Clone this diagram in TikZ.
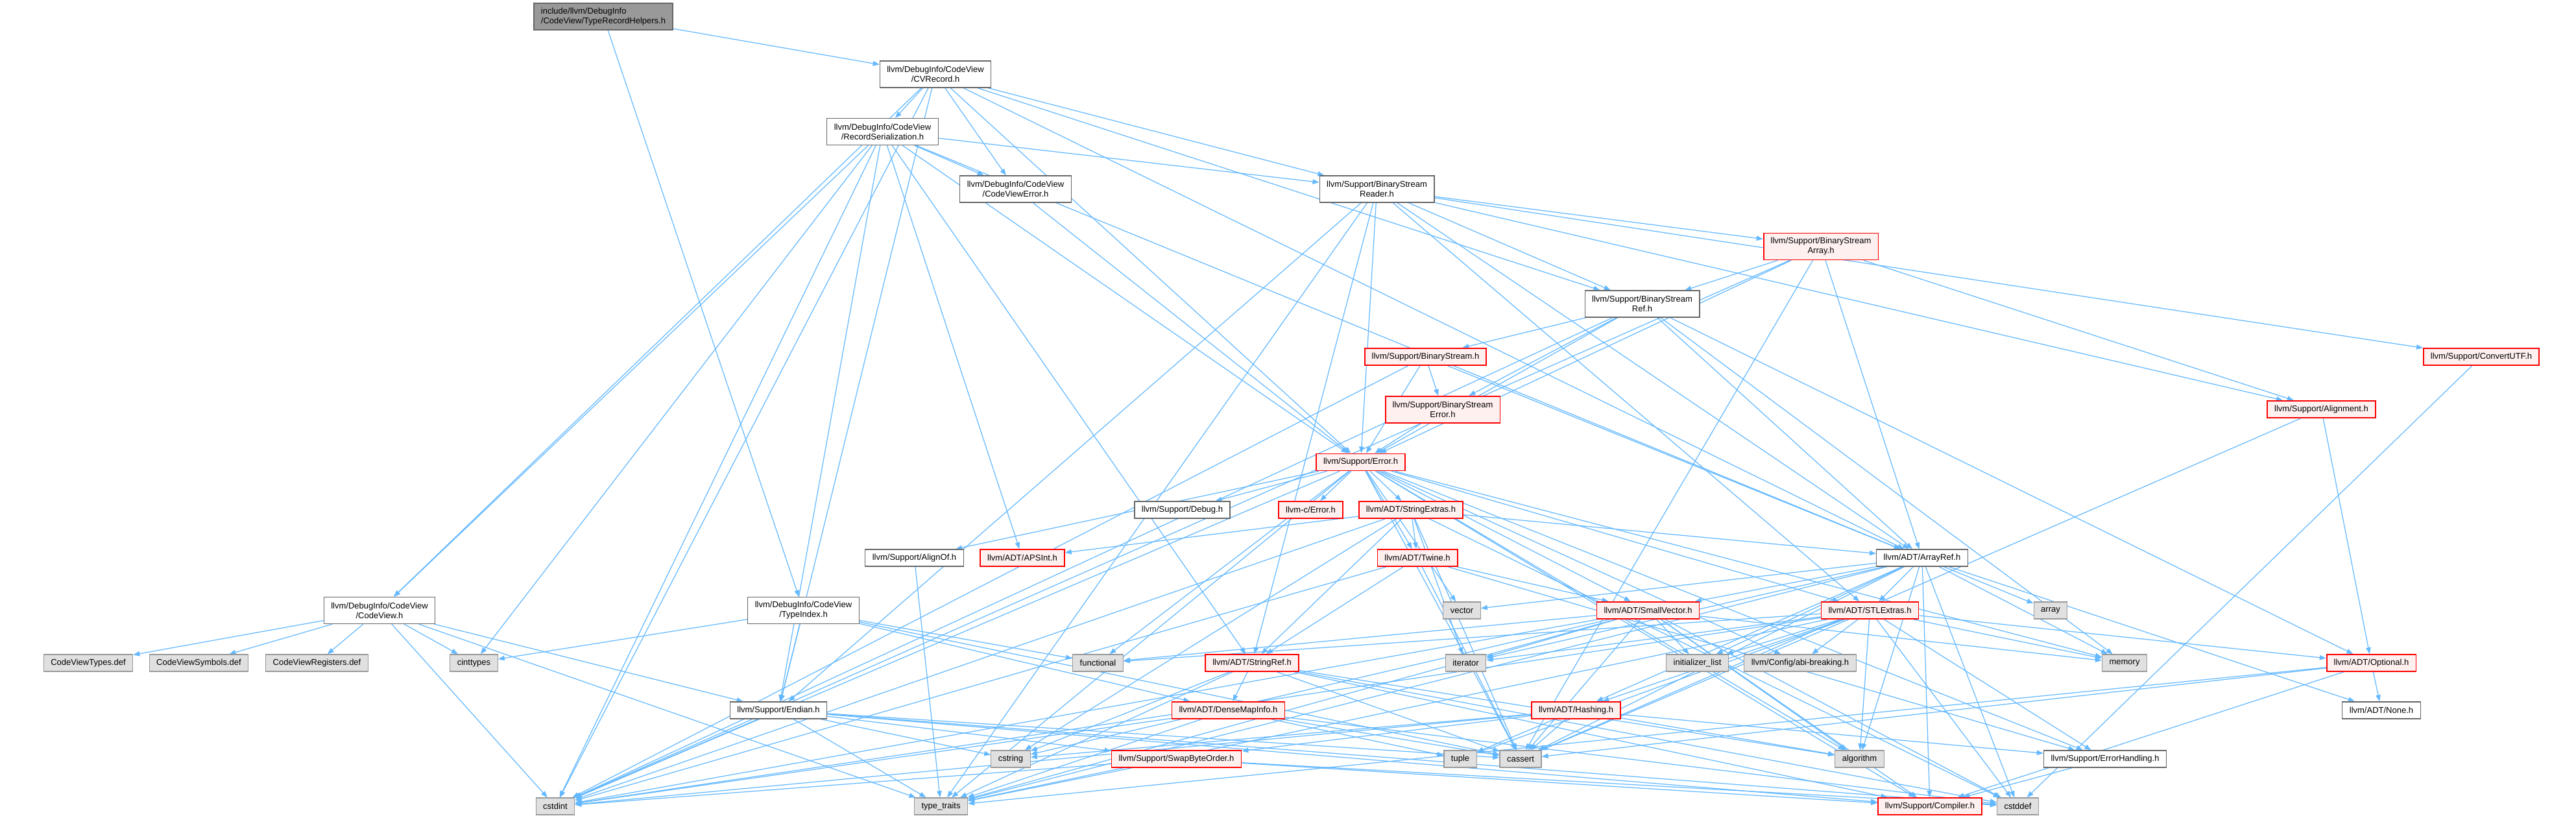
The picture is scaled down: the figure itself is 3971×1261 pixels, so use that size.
\documentclass[tikz,border=0pt]{standalone}
\usepackage{fontspec}
\setmainfont{Liberation Sans}
\usetikzlibrary{arrows.meta,backgrounds}
\definecolor{edgeblue}{HTML}{63B8FF}
\definecolor{redfill}{HTML}{FFF0F0}
\definecolor{sysfill}{HTML}{E0E0E0}
\definecolor{sysline}{HTML}{999999}
\definecolor{hdrline}{HTML}{666666}
\definecolor{rootfill}{HTML}{999999}

\begin{document}
\begin{tikzpicture}[
  x=0.01cm, y=-0.01cm,
  box/.style={draw, rectangle, font=\fontsize{3.7}{4.3}\selectfont, inner xsep=0.11cm,
              inner ysep=0pt, minimum height=0.26cm, align=center, line width=0.35pt},
  hdr/.style={box, draw=hdrline, fill=white},
  redhdr/.style={box, draw=red, fill=redfill, line width=0.5pt},
  syshdr/.style={box, draw=sysline, fill=sysfill},
  roothdr/.style={box, draw=hdrline, fill=rootfill, align=left},
  two/.style={minimum height=0.41cm},
  dep/.style={-{Triangle[length=0.1cm,width=0.075cm]}, draw=edgeblue, line width=0.35pt}
]
  \useasboundingbox (0,0) rectangle (3971,1261);

  %-- CodeView headers
  \node[roothdr, two] (trh)       at (930,25.5)    {include/llvm/DebugInfo\\/CodeView/TypeRecordHelpers.h};
  \node[hdr, two]     (cvrecord)  at (1442,114.5)  {llvm/DebugInfo/CodeView\\/CVRecord.h};
  \node[hdr, two]     (recser)    at (1360.5,203)  {llvm/DebugInfo/CodeView\\/RecordSerialization.h};
  \node[hdr, two]     (cverror)   at (1565.5,291.5){llvm/DebugInfo/CodeView\\/CodeViewError.h};
  \node[hdr, two]     (codeview)  at (585,941)     {llvm/DebugInfo/CodeView\\/CodeView.h};
  \node[hdr, two]     (typeindex) at (1238.5,941)  {llvm/DebugInfo/CodeView\\/TypeIndex.h};
  \node[syshdr]       (cvtypes)   at (136,1022)    {CodeViewTypes.def};
  \node[syshdr]       (cvsymbols) at (306.5,1022)  {CodeViewSymbols.def};
  \node[syshdr]       (cvregs)    at (488.5,1022)  {CodeViewRegisters.def};

  %-- Support headers
  \node[hdr, two]     (bsreader)  at (2122.5,291.5){llvm/Support/BinaryStream\\Reader.h};
  \node[redhdr, two]  (bsarray)   at (2807,380)    {llvm/Support/BinaryStream\\Array.h};
  \node[hdr, two]     (bsref)     at (2531.5,468.5){llvm/Support/BinaryStream\\Ref.h};
  \node[redhdr]       (bstream)   at (2197.5,550)  {llvm/Support/BinaryStream.h};
  \node[redhdr]       (convutf)   at (3825,550)    {llvm/Support/ConvertUTF.h};
  \node[redhdr, two]  (bserror)   at (2224,631.5)  {llvm/Support/BinaryStream\\Error.h};
  \node[redhdr]       (align)     at (3578.5,631)  {llvm/Support/Alignment.h};
  \node[redhdr]       (error)     at (2097.5,712.5){llvm/Support/Error.h};
  \node[hdr]          (debug)     at (1822.5,786)  {llvm/Support/Debug.h};
  \node[redhdr]       (cerror)    at (2020.5,786)  {llvm-c/Error.h};
  \node[hdr]          (alignof)   at (1409.5,860)  {llvm/Support/AlignOf.h};
  \node[hdr]          (endian)    at (1200,1095)   {llvm/Support/Endian.h};
  \node[redhdr]       (swapbyte)  at (1813.5,1170) {llvm/Support/SwapByteOrder.h};
  \node[hdr]          (errhandl)  at (3245,1170)   {llvm/Support/ErrorHandling.h};
  \node[redhdr]       (compiler)  at (2975,1243)   {llvm/Support/Compiler.h};
  \node[syshdr]       (abibreak)  at (2775,1022)   {llvm/Config/abi-breaking.h};

  %-- ADT headers
  \node[redhdr]       (strext)    at (2175,786)    {llvm/ADT/StringExtras.h};
  \node[redhdr]       (apsint)    at (1576,860)    {llvm/ADT/APSInt.h};
  \node[redhdr]       (twine)     at (2185,860)    {llvm/ADT/Twine.h};
  \node[hdr]          (arrayref)  at (2963,860)    {llvm/ADT/ArrayRef.h};
  \node[redhdr]       (smallvec)  at (2540.5,941)  {llvm/ADT/SmallVector.h};
  \node[redhdr]       (stlextras) at (2882.5,941)  {llvm/ADT/STLExtras.h};
  \node[redhdr]       (stringref) at (1930,1022)   {llvm/ADT/StringRef.h};
  \node[redhdr]       (optional)  at (3655.5,1022) {llvm/ADT/Optional.h};
  \node[redhdr]       (densemap)  at (1893.5,1095) {llvm/ADT/DenseMapInfo.h};
  \node[redhdr]       (hashing)   at (2429.5,1095) {llvm/ADT/Hashing.h};
  \node[hdr]          (none)      at (3671,1095)   {llvm/ADT/None.h};

  %-- Standard headers
  \node[syshdr]       (vector)    at (2253.5,941)  {vector};
  \node[syshdr]       (array)     at (3161,941)    {array};
  \node[syshdr]       (cinttypes) at (730.5,1022)  {cinttypes};
  \node[syshdr]       (functional)at (1692.5,1022) {functional};
  \node[syshdr]       (iterator)  at (2259.5,1022) {iterator};
  \node[syshdr]       (initlist)  at (2616.5,1022) {initializer\_list};
  \node[syshdr]       (memory)    at (3275,1022)   {memory};
  \node[syshdr]       (cstring)   at (1558,1170)   {cstring};
  \node[syshdr]       (tuple)     at (2251,1170)   {tuple};
  \node[syshdr]       (cassert)   at (2344,1170)   {cassert};
  \node[syshdr]       (algorithm) at (2866.5,1170) {algorithm};
  \node[syshdr]       (cstdint)   at (856,1243)    {cstdint};
  \node[syshdr]       (typetraits)at (1450.5,1243) {type\_traits};
  \node[syshdr]       (cstddef)   at (3110.5,1243) {cstddef};

  %-- Include edges
  \begin{scope}[on background layer]
    \foreach \t in {cvrecord,typeindex} \draw[dep] (trh) -- (\t);
    \foreach \t in {codeview,cverror,recser,bsreader,bsref,error,endian,cstdint,arrayref}
      \draw[dep] (cvrecord) -- (\t);
    \foreach \t in {apsint,arrayref,stringref,codeview,cverror,bsreader,endian,error,cinttypes,cstdint}
      \draw[dep] (recser) -- (\t);
    \draw[dep] (cverror) -- (error);
    \foreach \t in {arrayref,stlextras,stringref,align,bsarray,bsref,convutf,endian,error,typetraits}
      \draw[dep] (bsreader) -- (\t);
    \foreach \t in {arrayref,align,bsref,error,cassert,cstdint}
      \draw[dep] (bsarray) -- (\t);
    \foreach \t in {arrayref,optional,bstream,bserror,error,cstdint,memory}
      \draw[dep] (bsref) -- (\t);
    \foreach \t in {arrayref,bserror,error,cstdint}
      \draw[dep] (bstream) -- (\t);
    \draw[dep] (bserror) -- (error);
    \draw[dep] (convutf) -- (cstddef);
    \foreach \t in {optional,cassert} \draw[dep] (align) -- (\t);
    \foreach \t in {cerror,stlextras,smallvec,strext,twine,abibreak,alignof,compiler,debug,
                    errhandl,algorithm,cassert,cstdint,functional,memory,typetraits,vector}
      \draw[dep] (error) -- (\t);
    \foreach \t in {apsint,arrayref,stringref,twine,cassert,cstddef,cstdint,cstring,iterator}
      \draw[dep] (strext) -- (\t);
    \foreach \t in {smallvec,stringref,errhandl,cassert,cstdint}
      \draw[dep] (twine) -- (\t);
    \draw[dep] (alignof) -- (typetraits);
    \foreach \t in {hashing,none,smallvec,stlextras,compiler,algorithm,array,cassert,cstddef,
                    initlist,iterator,memory,typetraits,vector}
      \draw[dep] (arrayref) -- (\t);
    \foreach \t in {cvtypes,cvsymbols,cvregs,cinttypes,endian,cstdint,typetraits}
      \draw[dep] (codeview) -- (\t);
    \foreach \t in {densemap,endian,cassert,cinttypes,functional}
      \draw[dep] (typeindex) -- (\t);
    \foreach \t in {compiler,algorithm,cassert,cstddef,cstring,functional,initlist,iterator,
                    memory,typetraits,cstdint}
      \draw[dep] (smallvec) -- (\t);
    \foreach \t in {hashing,optional,abibreak,errhandl,algorithm,cassert,cstddef,cstdint,
                    functional,initlist,iterator,memory,tuple,typetraits}
      \draw[dep] (stlextras) -- (\t);
    \foreach \t in {densemap,compiler,algorithm,cassert,cstddef,cstring,typetraits}
      \draw[dep] (stringref) -- (\t);
    \foreach \t in {none,compiler,cassert,typetraits} \draw[dep] (optional) -- (\t);
    \foreach \t in {compiler,swapbyte,cassert,cstddef,cstdint,cstring,typetraits}
      \draw[dep] (endian) -- (\t);
    \foreach \t in {cassert,cstddef,cstdint,tuple,typetraits}
      \draw[dep] (densemap) -- (\t);
    \foreach \t in {errhandl,swapbyte,algorithm,cassert,cstring,tuple,cstdint}
      \draw[dep] (hashing) -- (\t);
    \foreach \t in {compiler,cstddef,cstdint,typetraits}
      \draw[dep] (swapbyte) -- (\t);
    \draw[dep] (errhandl) -- (compiler);
  \end{scope}
\end{tikzpicture}
\end{document}
